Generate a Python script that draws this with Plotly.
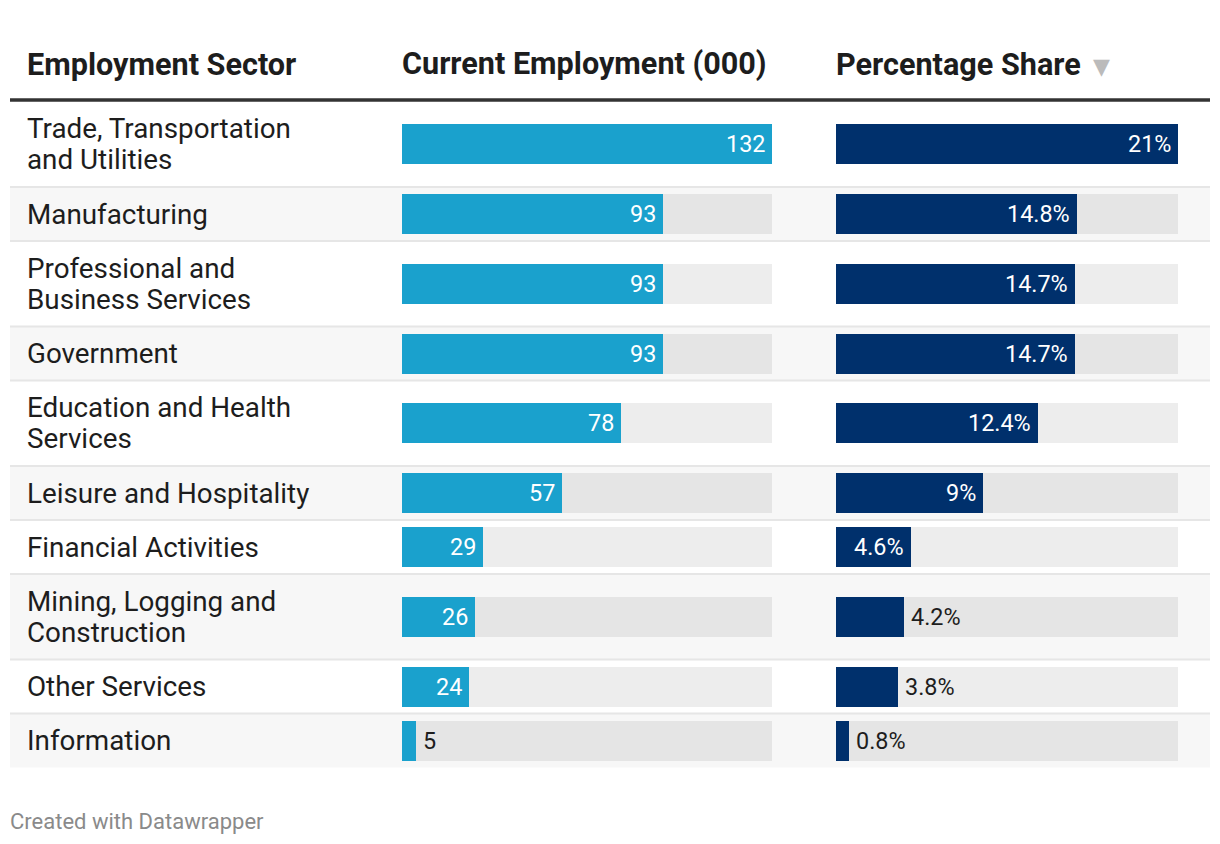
import plotly.graph_objects as go

# ---------------- data ----------------
sectors = [
    "Trade, Transportation<br>and Utilities",
    "Manufacturing",
    "Professional and<br>Business Services",
    "Government",
    "Education and Health<br>Services",
    "Leisure and Hospitality",
    "Financial Activities",
    "Mining, Logging and<br>Construction",
    "Other Services",
    "Information",
]
employment = [132, 93, 93, 93, 78, 57, 29, 26, 24, 5]
share = [21, 14.8, 14.7, 14.7, 12.4, 9, 4.6, 4.2, 3.8, 0.8]
headers = ["Employment Sector", "Current Employment (000)", "Percentage Share"]
footer = "Created with Datawrapper"

# ---------------- layout constants (page pixel coords) ----------------
OFF = 8                      # default body margin of the html page
W, H = 1220 - 2 * OFF, 844 - 2 * OFF
TABLE_L, TABLE_R = 10, 1210
HEADER_RULE_Y = 100
FIRST_ROW_TOP = 101.5
ROW_H_1 = 54
ROW_H_2 = 85.5
LINE_GAP = 31
BAR_H = 40
COL1 = (402, 772)
COL2 = (836, 1178)
LABEL_X = 25
BLUE = "#1aa1cd"
NAVY = "#00306c"
TXT = "#1d1d1d"
FONT = "Roboto"
HEAD_FS = 30.6
BODY_FS = 27.8
VAL_FS = 23.4


def px(X):
    return (X - OFF) / W


def py(Y):
    return Y - OFF


# row geometry
tops, centers, heights = [], [], []
y = FIRST_ROW_TOP
for name in sectors:
    h = ROW_H_2 if "<br>" in name else ROW_H_1
    tops.append(py(y))
    heights.append(h)
    centers.append(py(y + h / 2))
    y += h

fig = go.Figure()

emp_max = max(employment)
share_max = max(share)

# background tracks
fig.add_trace(go.Bar(x=[emp_max] * len(employment), y=centers, width=BAR_H, orientation="h",
                     marker=dict(color="rgba(0,0,0,0.07)", line=dict(width=0)),
                     xaxis="x", yaxis="y", hoverinfo="skip", showlegend=False))
fig.add_trace(go.Bar(x=[share_max] * len(share), y=centers, width=BAR_H, orientation="h",
                     marker=dict(color="rgba(0,0,0,0.07)", line=dict(width=0)),
                     xaxis="x2", yaxis="y", hoverinfo="skip", showlegend=False))
# value bars
fig.add_trace(go.Bar(x=employment, y=centers, width=BAR_H, orientation="h",
                     marker=dict(color=BLUE, line=dict(width=0)),
                     xaxis="x", yaxis="y", showlegend=False))
fig.add_trace(go.Bar(x=share, y=centers, width=BAR_H, orientation="h",
                     marker=dict(color=NAVY, line=dict(width=0)),
                     xaxis="x2", yaxis="y", showlegend=False))

shapes = []
annotations = []

# row backgrounds & separators
for i, (t, h) in enumerate(zip(tops, heights)):
    if i % 2 == 1:
        shapes.append(dict(type="rect", xref="paper", yref="y", x0=px(TABLE_L), x1=px(TABLE_R),
                           y0=t, y1=t + h, fillcolor="#f7f7f7", line=dict(width=0), layer="below"))
    if i > 0:
        shapes.append(dict(type="line", xref="paper", yref="y", x0=px(TABLE_L), x1=px(TABLE_R),
                           y0=t, y1=t, line=dict(color="#e6e6e6", width=2), layer="below"))

# header rule
shapes.append(dict(type="line", xref="paper", yref="y", x0=px(TABLE_L), x1=px(TABLE_R),
                   y0=py(HEADER_RULE_Y), y1=py(HEADER_RULE_Y), line=dict(color="#333333", width=3.5)))

# header texts
for txt, x in zip(headers, [LABEL_X, COL1[0] - 2, COL2[0] - 2]):
    annotations.append(dict(text=f"<b>{txt}</b>", xref="paper", yref="y", x=px(x), y=py(64),
                            xanchor="left", yanchor="middle", showarrow=False,
                            font=dict(family=FONT, size=HEAD_FS, color=TXT)))
annotations.append(dict(text="▼", xref="paper", yref="y", x=px(1091), y=py(66),
                        xanchor="left", yanchor="middle", showarrow=False,
                        font=dict(family="DejaVu Sans", size=22, color="#bbbbbb")))

# row labels (each line placed separately for tight line spacing)
for name, c in zip(sectors, centers):
    lines = name.split("<br>")
    n = len(lines)
    for k, ln in enumerate(lines):
        yy = c + (k - (n - 1) / 2) * LINE_GAP
        annotations.append(dict(text=ln, xref="paper", yref="y", x=px(LABEL_X), y=yy,
                                xanchor="left", yanchor="middle", align="left", showarrow=False,
                                font=dict(family=FONT, size=BODY_FS, color=TXT)))


def est_width(s):
    w = 0
    for ch in s:
        w += 6.5 if ch == "." else (18 if ch == "%" else 13)
    return w


def value_labels(vals, fmt, col, xref, vmax):
    span = col[1] - col[0]
    for v, c in zip(vals, centers):
        s = fmt(v)
        bar_px = span * v / vmax
        inside = bar_px >= est_width(s) + 22
        annotations.append(dict(text=s, xref=xref, yref="y", x=v, y=c,
                                xanchor="right" if inside else "left", yanchor="middle",
                                xshift=-5 if inside else 5, showarrow=False,
                                font=dict(family=FONT, size=VAL_FS,
                                          color="#ffffff" if inside else TXT)))


value_labels(employment, lambda v: f"{v:g}", COL1, "x", emp_max)
value_labels(share, lambda v: f"{v:g}%", COL2, "x2", share_max)

# footer
annotations.append(dict(text=footer, xref="paper", yref="y", x=px(TABLE_L - 2), y=py(821),
                        xanchor="left", yanchor="middle", showarrow=False,
                        font=dict(family=FONT, size=22, color="#8a8a8a")))

fig.update_layout(
    width=W, height=H, margin=dict(l=0, r=0, t=0, b=0),
    paper_bgcolor="white", plot_bgcolor="rgba(0,0,0,0)",
    barmode="overlay", bargap=0,
    xaxis=dict(domain=[px(COL1[0]), px(COL1[1])], range=[0, emp_max], visible=False,
               fixedrange=True, anchor="y"),
    xaxis2=dict(domain=[px(COL2[0]), px(COL2[1])], range=[0, share_max], visible=False,
                fixedrange=True, anchor="y"),
    yaxis=dict(domain=[0, 1], range=[H, 0], visible=False, fixedrange=True),
    shapes=shapes, annotations=annotations, showlegend=False,
)

fig.write_html("out.html", config={"displayModeBar": False})
